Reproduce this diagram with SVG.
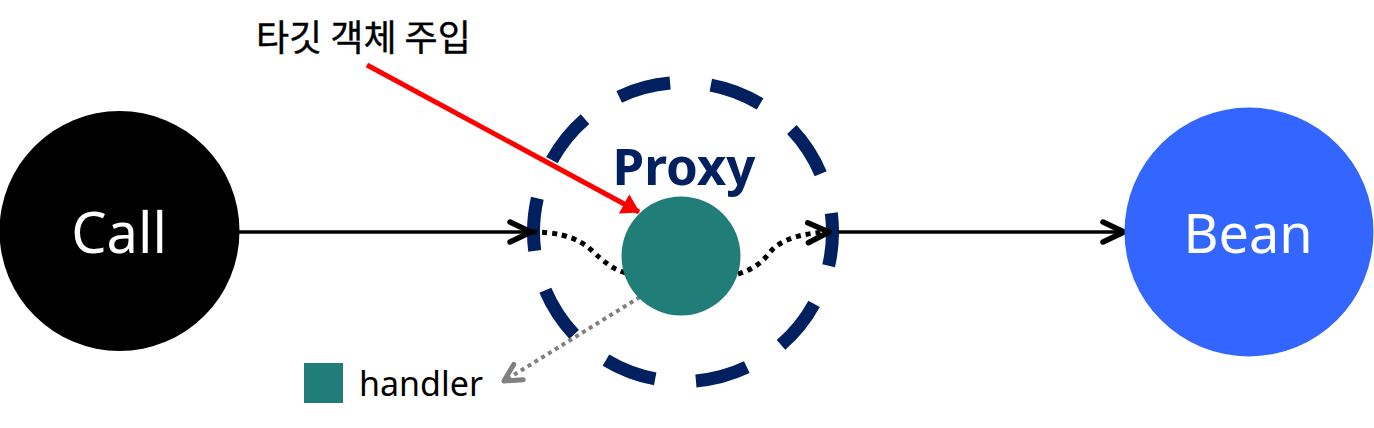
<svg xmlns="http://www.w3.org/2000/svg" width="1374" height="428" viewBox="0 0 1374 428">
  <style>
    .lbl { font-family: "Noto Sans", "Noto Sans CJK KR", sans-serif; }
    .white { fill: #ffffff; text-anchor: middle; }
    .line { fill: none; stroke: #000000; stroke-width: 3.5; }
    .dots { fill: none; stroke: #000000; stroke-width: 5; stroke-dasharray: 5 5; }
  </style>
  <defs>
    <marker id="open" viewBox="0 0 28 28" refX="24" refY="14" markerWidth="28" markerHeight="28" markerUnits="userSpaceOnUse" orient="auto">
      <path d="M3,4 L24,14 L3,24" fill="none" stroke="#000000" stroke-width="5.5" stroke-linecap="round" stroke-linejoin="round"/>
    </marker>
    <marker id="openGray" viewBox="0 0 24 24" refX="20" refY="12" markerWidth="24" markerHeight="24" markerUnits="userSpaceOnUse" orient="auto">
      <path d="M3,3 L20,12 L3,21" fill="none" stroke="#808080" stroke-width="5" stroke-linecap="round" stroke-linejoin="round"/>
    </marker>
    <marker id="redTri" viewBox="0 0 18 22" refX="17" refY="11" markerWidth="18" markerHeight="22" markerUnits="userSpaceOnUse" orient="auto">
      <path d="M0,0 L18,11 L0,22 Z" fill="#ff0000"/>
    </marker>
  </defs>

  <g id="proxy">
    <circle cx="683" cy="232" r="149.5" fill="none" stroke="#002060" stroke-width="13" stroke-dasharray="53 40.9" stroke-dashoffset="19"/>
    <text class="lbl" x="684" y="185" font-size="51" font-weight="bold" fill="#002060" text-anchor="middle">Proxy</text>
  </g>

  <g id="connectors">
    <line class="line" x1="239" y1="232" x2="531" y2="232" marker-end="url(#open)"/>
    <path class="dots" d="M532,232 C580,232 590,250 600,258 C610,266 615,270 626,273"/>
    <path class="dots" d="M738,274 C758,268 765,258 772,250 C782,240 800,233 829,232" marker-end="url(#open)"/>
    <line class="line" x1="838" y1="232" x2="1124" y2="232" marker-end="url(#open)"/>
    <line x1="367" y1="65" x2="639" y2="212" stroke="#ff0000" stroke-width="5" marker-end="url(#redTri)"/>
    <line x1="640" y1="297" x2="504" y2="381" stroke="#808080" stroke-width="4" stroke-dasharray="4 4" marker-end="url(#openGray)"/>
  </g>

  <g id="handler">
    <circle cx="681" cy="256" r="59.5" fill="#217d77"/>
  </g>

  <g id="call">
    <circle cx="119.5" cy="231" r="120" fill="#000000"/>
    <text class="lbl white" x="119" y="253" font-size="56">Call</text>
  </g>

  <g id="bean">
    <circle cx="1249" cy="232" r="124.5" fill="#3366ff"/>
    <text class="lbl white" x="1248" y="253" font-size="54">Bean</text>
  </g>

  <g id="inject-label">
    <text x="256" y="51" font-size="36" font-weight="400" fill="#000000" stroke="#000000" stroke-width="0.4" style="font-family: 'Noto Sans CJK KR', sans-serif;">타깃 객체 주입</text>
  </g>

  <g id="legend">
    <rect x="304" y="363" width="39" height="40" fill="#217d77"/>
    <text class="lbl" x="359" y="396" font-size="34" fill="#000000">handler</text>
  </g>
</svg>
